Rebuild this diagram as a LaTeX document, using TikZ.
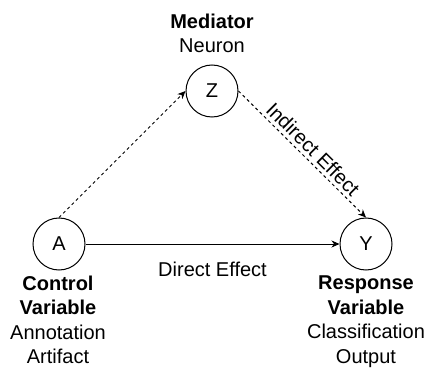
\documentclass[tikz,border=0pt]{standalone}
\usepackage{fontspec}
\setmainfont{Liberation Sans}
\usetikzlibrary{arrows.meta,positioning}
\begin{document}
\begin{tikzpicture}[x=1pt,y=1pt,
  font=\fontsize{20}{24.5}\selectfont,
  var/.style={circle,draw,line width=1pt,minimum size=52pt,inner sep=0pt},
  lbl/.style={align=center,inner sep=0pt,anchor=north},
  arr/.style={line width=1pt,-{Stealth[length=8pt,width=7pt,inset=2.5pt]}},
  dash3/.style={dash pattern=on 3pt off 3pt}]
\useasboundingbox (0,0) rectangle (425,367);
% variables
\node[var] (Z) at (212,276) {Z};
\node[var] (A) at (59,123) {A};
\node[var] (Y) at (366,123) {Y};
% descriptions
\node[lbl] (med) at (212,353.5) {\textbf{Mediator}\\Neuron};
\node[lbl] (ctrl) at (58,91.3) {\textbf{Control}\\\textbf{Variable}\\Annotation\\Artifact};
\node[lbl] (resp) at (366,91.3) {\textbf{Response}\\\textbf{Variable}\\Classification\\Output};
% effects
\draw[arr,dash3] (A.north) -- (Z.west);
\draw[arr,dash3] (Z.east) -- node[midway,sloped,above,inner sep=3.5pt,xshift=4pt] (ind) {Indirect Effect} (Y.north);
\draw[arr] (A.east) -- node[midway,below=17.5pt,inner sep=0pt] (dir) {Direct Effect} (Y.west);
\end{tikzpicture}
\end{document}
